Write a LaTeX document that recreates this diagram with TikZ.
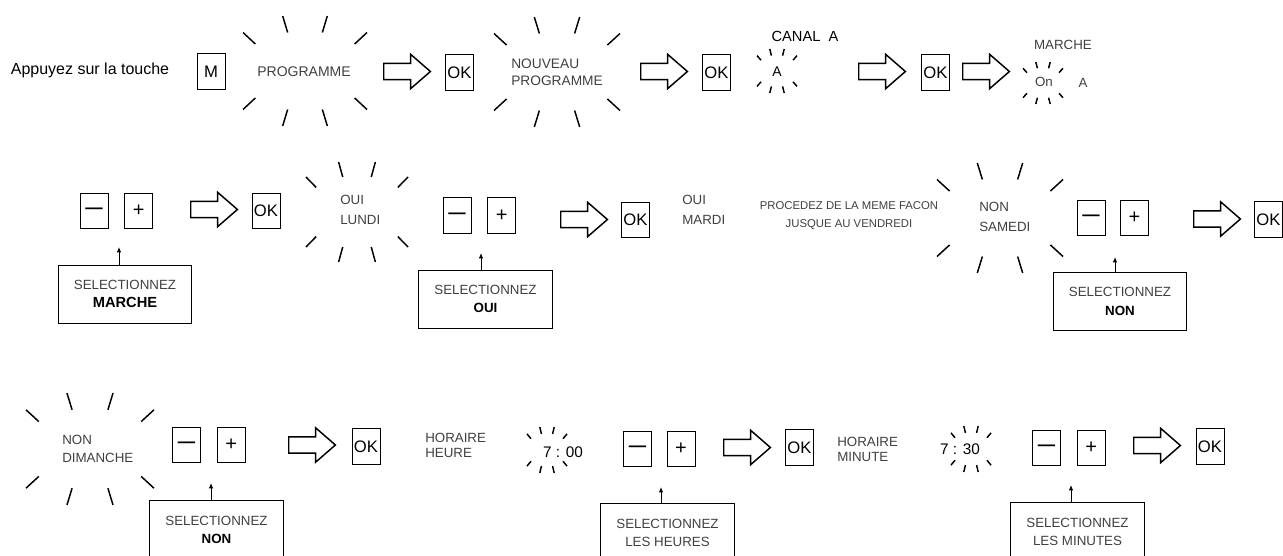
\documentclass[tikz,border=0pt]{standalone}
\usepackage{fontspec}
\setmainfont{Liberation Sans}
\usetikzlibrary{positioning,shapes.arrows,arrows.meta}

\tikzset{
  txt/.style={inner sep=0pt, font=\fontsize{10.5}{12}\selectfont},
  lbl/.style={inner sep=0pt, align=left, text=black!75, font=\fontsize{10}{13}\selectfont},
  key/.style={draw, line width=0.6pt, minimum width=21pt, minimum height=26.5pt, inner sep=0pt, font=\fontsize{12.5}{14}\selectfont},
  moinskey/.style={key, font=\fontsize{13}{14}\selectfont\bfseries},
  pluskey/.style={key, font=\fontsize{15}{15}\selectfont},
  selbox/.style={draw, line width=0.6pt, minimum width=100pt, minimum height=43.5pt, inner sep=0pt, align=center, text=black!75, font=\fontsize{10}{14}\selectfont},
  bigarrow/.style={shape=single arrow, draw, line width=1.1pt, anchor=tail, minimum height=35pt, inner xsep=0pt, inner ysep=5.6pt, single arrow head extend=6.75pt, single arrow tip angle=82},
  pointer/.style={-{Latex[length=4pt,width=3.2pt]}, line width=0.6pt},
  burst/.pic={
    \draw [line width=1.1pt]
      (-0.8,-0.49) -- (-1,-0.7)  (-0.28,-0.7) -- (-0.36,-1)
      (0.28,-0.7) -- (0.36,-1)   (0.8,-0.49) -- (1,-0.7)
      (-0.8,0.49) -- (-1,0.7)    (-0.28,0.7) -- (-0.36,1)
      (0.28,0.7) -- (0.36,1)     (0.8,0.49) -- (1,0.7);
  }
}

\begin{document}
\begin{tikzpicture}[x=0.75pt, y=-0.75pt]
      \useasboundingbox (0,0) rectangle (1283,556);

      \node [txt, font=\fontsize{12}{13}\selectfont] (press) at (90,70) {Appuyez sur la touche};
      \node [key] (m) at (211,71.5) {M};
      \pic [xscale=62, yscale=55] at (305,71) {burst};
      \node [lbl, font=\fontsize{10.5}{13}\selectfont] (prog) at (304,72) {PROGRAMME};
      \node [bigarrow] (a1) at (383,71.5) {};
      \node [key] (ok1) at (459.5,72.5) {OK};
      \pic [xscale=63, yscale=55] at (557,72) {burst};
      \node [lbl, anchor=west, font=\fontsize{10.3}{12.75}\selectfont] (nouv) at (511,72) {NOUVEAU\\PROGRAMME};
      \node [bigarrow] (a2) at (640,71.5) {};
      \node [key] (ok2) at (716.5,72.5) {OK};
      \node [txt, font=\fontsize{11}{12}\selectfont] (canal) at (805,36) {CANAL~~A};
      \pic [xscale=20, yscale=22] at (777,71) {burst};
      \node [txt] (ch1) at (777,72) {A};
      \node [bigarrow] (a3) at (858,71.5) {};
      \node [key] (ok3) at (935.5,72.5) {OK};
      \node [bigarrow] (a4) at (962,71.5) {};
      \node [lbl] (marche) at (1063,45) {MARCHE};
      \pic [xscale=20, yscale=21] at (1043,83) {burst};
      \node [lbl] (on) at (1044,82) {On};
      \node [lbl] (ch2) at (1083,83) {A};

      \node [moinskey] (k1) at (94,211) {—};
      \node [pluskey, right=12pt of k1] (p1) {+};
      \node [selbox] (s1) at (125,294) {SELECTIONNEZ\\{\color{black}\fontsize{11}{14}\selectfont\bfseries MARCHE}};
      \coordinate (t1) at (119,247);
      \draw [pointer] (s1.north -| t1) -- (t1);
      \node [bigarrow] (a5) at (190,209.5) {};
      \node [key] (ok4) at (266,211) {OK};
      \pic [xscale=51, yscale=50] at (357,212) {burst};
      \node [lbl, anchor=west, font=\fontsize{10}{15}\selectfont] (lundi) at (340,210) {OUI\\LUNDI};
      \node [moinskey] (k2) at (457,215.5) {—};
      \node [pluskey, right=12pt of k2] (p2) {+};
      \node [selbox] (s2) at (485.5,299) {SELECTIONNEZ\\{\color{black}\bfseries OUI}};
      \coordinate (t2) at (481,253);
      \draw [pointer] (s2.north -| t2) -- (t2);
      \node [bigarrow] (a6) at (560,219.5) {};
      \node [key] (ok5) at (635.5,220) {OK};
      \node [lbl, anchor=west, font=\fontsize{10}{14.5}\selectfont] (mardi) at (682,210) {OUI\\MARDI};
      \node [lbl, align=center, font=\fontsize{8.5}{13.5}\selectfont] (proc) at (849,216) {PROCEDEZ DE LA MEME FACON\\JUSQUE AU VENDREDI};
      \pic [xscale=63, yscale=55] at (1000,218) {burst};
      \node [lbl, anchor=west, font=\fontsize{10}{14.5}\selectfont] (samedi) at (979,217) {NON\\SAMEDI};
      \node [moinskey] (k3) at (1091,218) {—};
      \node [pluskey, right=11pt of k3] (p3) {+};
      \node [selbox] (s3) at (1120,301.5) {SELECTIONNEZ\\{\color{black}\bfseries NON}};
      \coordinate (t3) at (1115,257);
      \draw [pointer] (s3.north -| t3) -- (t3);
      \node [bigarrow] (a7) at (1193,219) {};
      \node [key] (ok6) at (1268.5,219.5) {OK};

      \pic [xscale=64, yscale=56] at (90,449) {burst};
      \node [lbl, anchor=west, font=\fontsize{10}{13.5}\selectfont] (dimanche) at (62,449) {NON\\DIMANCHE};
      \node [moinskey] (k4) at (186.5,445) {—};
      \node [pluskey, right=12pt of k4] (p4) {+};
      \node [selbox, minimum height=45pt] (s4) at (216.5,530) {SELECTIONNEZ\\{\color{black}\bfseries NON}};
      \coordinate (t4) at (211,483);
      \draw [pointer] (s4.north -| t4) -- (t4);
      \node [bigarrow] (a8) at (288,445) {};
      \node [key] (ok7) at (366,446.5) {OK};
      \node [lbl, anchor=west, font=\fontsize{10}{11.3}\selectfont] (heure) at (425,445.5) {HORAIRE\\HEURE};
      \pic [xscale=20, yscale=23] at (547,450) {burst};
      \node [txt, font=\fontsize{11.5}{12}\selectfont] (h700) at (563,452) {7 : 00};
      \node [moinskey] (k5) at (637.5,449) {—};
      \node [pluskey, right=11pt of k5] (p5) {+};
      \node [selbox, minimum height=45pt] (s5) at (667.5,533) {SELECTIONNEZ\\LES HEURES};
      \coordinate (t5) at (661,487);
      \draw [pointer] (s5.north -| t5) -- (t5);
      \node [bigarrow] (a9) at (723,447.5) {};
      \node [key] (ok8) at (799.5,447.5) {OK};
      \node [lbl, anchor=west, font=\fontsize{10}{11.3}\selectfont] (minute) at (837,449) {HORAIRE\\MINUTE};
      \pic [xscale=20, yscale=23] at (971,449) {burst};
      \node [txt, font=\fontsize{11.5}{12}\selectfont] (h730) at (960,449) {7 : 30};
      \node [moinskey] (k6) at (1046.5,448) {—};
      \node [pluskey, right=12pt of k6] (p6) {+};
      \node [selbox, minimum height=45pt] (s6) at (1077.5,532) {SELECTIONNEZ\\LES MINUTES};
      \coordinate (t6) at (1071,485);
      \draw [pointer] (s6.north -| t6) -- (t6);
      \node [bigarrow] (a10) at (1133,445.5) {};
      \node [key] (ok9) at (1210,446.5) {OK};
\end{tikzpicture}
\end{document}
